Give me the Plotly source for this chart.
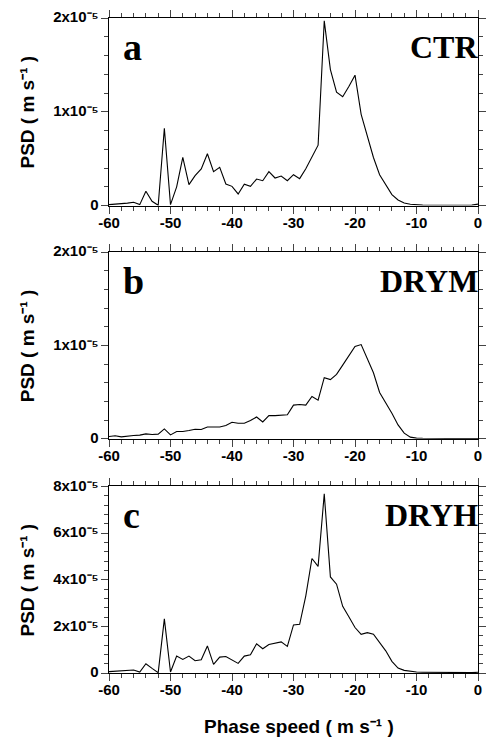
import plotly.graph_objects as go

# ---------------- data ----------------
phase_speed = list(range(-60, 1))  # m s^-1

psd_ctr_e6 = [0.10, 0.14, 0.18, 0.26, 0.35, 0.10, 1.52, 0.46, 0.03, 8.25,
              0.10, 2.00, 5.13, 2.23, 3.19, 3.90, 5.52, 3.61, 4.07, 2.30,
              2.05, 1.24, 2.27, 2.05, 2.83, 2.65, 3.61, 2.94, 3.15, 2.65,
              3.29, 2.87, 3.93, 5.13, 6.44, 19.70, 14.50, 12.10, 11.60, 12.70,
              13.90, 9.73, 7.43, 5.13, 3.29, 2.30, 1.17, 0.60, 0.28, 0.14,
              0.07, 0.05, 0.04, 0.03, 0.03, 0.02, 0.02, 0.02, 0.03, 0.05,
              0.15]

psd_drym_e6 = [0.25, 0.32, 0.21, 0.32, 0.35, 0.39, 0.53, 0.46, 0.50, 1.06,
               0.42, 0.78, 0.78, 0.88, 1.03, 0.99, 1.27, 1.27, 1.27, 1.42,
               1.77, 1.66, 1.66, 1.95, 2.34, 1.81, 2.48, 2.48, 2.55, 2.58,
               3.61, 3.68, 3.61, 4.53, 4.14, 6.55, 6.35, 6.90, 7.90, 8.90,
               9.90, 10.10, 8.57, 7.08, 4.96, 3.86, 2.73, 1.49, 0.60, 0.18,
               0.07, 0.05, 0.04, 0.03, 0.03, 0.02, 0.02, 0.02, 0.02, 0.02,
               0.02]

psd_dryh_e6 = [0.57, 0.80, 1.00, 1.15, 1.28, 0.43, 3.98, 2.00, 0.14, 23.2,
               0.43, 7.24, 5.82, 7.24, 5.25, 5.68, 11.6, 3.69, 6.82, 7.10,
               5.68, 4.12, 7.24, 7.81, 12.5, 10.4, 12.2, 12.8, 13.35, 11.4,
               20.6, 20.9, 33.1, 49.1, 45.7, 76.8, 41.2, 38.1, 28.6, 24.1,
               19.5, 16.6, 17.3, 16.6, 13.0, 9.5, 5.0, 2.1, 1.13, 0.70,
               0.42, 0.35, 0.30, 0.27, 0.24, 0.22, 0.20, 0.18, 0.17, 0.16,
               0.30]

panel_letters = ["a", "b", "c"]
panel_names = ["CTR", "DRYM", "DRYH"]
x_tick_text = {"\u221260": "-60", "\u221250": "-50", "\u221240": "-40",
               "\u221230": "-30", "\u221220": "-20", "\u221210": "-10", "0": "0"}
y_tick_text = {"0": "0",
               "0.00001": "1x10\u207b\u2075", "0.00002": "2x10\u207b\u2075",
               "0.00004": "4x10\u207b\u2075", "0.00006": "6x10\u207b\u2075",
               "0.00008": "8x10\u207b\u2075"}
y_title = "PSD ( m s\u207b\u00b9 )"
x_title = "Phase speed ( m s\u207b\u00b9 )"

series = [
    [v * 1e-6 for v in psd_ctr_e6],
    [v * 1e-6 for v in psd_drym_e6],
    [v * 1e-6 for v in psd_dryh_e6],
]

# ---------------- layout geometry (pixels) ----------------
W, H = 494, 745
L, R = 109, 486
TOP, BOT = 13, 673
panels_px = [(13, 202), (249, 437), (485, 673)]


def px_x(px):
    return (px - L) / (R - L)


def px_y(py):
    return (BOT - py) / (BOT - TOP)


sans = "Liberation Sans, Arial, Helvetica, sans-serif"
serif = "Liberation Serif, Times New Roman, serif"
SPAN = '<span style="font-family:Liberation Sans,Arial,sans-serif;font-size:15px;font-weight:bold;fill:black">'


def styled(mapping):
    return {k: f"{SPAN}{v}</span>" for k, v in mapping.items()}


x_label_alias = styled(x_tick_text)
y_label_alias = styled(y_tick_text)

fig = go.Figure()

yranges = [[0, 2e-5], [0, 2e-5], [0, 8e-5]]
ydticks = [(1e-5, 2e-6), (1e-5, 2e-6), (2e-5, 4e-6)]

annotations = []
for i in range(3):
    xa = "x" if i == 0 else f"x{i+1}"
    ya = "y" if i == 0 else f"y{i+1}"
    fig.add_trace(go.Scatter(x=phase_speed, y=series[i], mode="lines",
                             line=dict(color="black", width=1.1),
                             xaxis=xa, yaxis=ya, showlegend=False))
    top, bot = panels_px[i]
    dom = [px_y(bot), px_y(top)]
    xkey = "xaxis" if i == 0 else f"xaxis{i+1}"
    ykey = "yaxis" if i == 0 else f"yaxis{i+1}"
    mdt, ndt = ydticks[i]
    common = dict(ticks="outside", showline=True, linecolor="black",
                  mirror="ticks", showgrid=False, zeroline=False)
    xax = dict(domain=[0, 1], anchor=ya, range=[-60, 0], dtick=10,
               labelalias=x_label_alias, ticklen=7,
               minor=dict(ticks="outside", ticklen=4, dtick=2), **common)
    yax = dict(domain=dom, anchor=xa, range=yranges[i], dtick=mdt, tickformat="~g",
               labelalias=y_label_alias, ticklen=7,
               minor=dict(ticks="outside", ticklen=4, dtick=ndt), **common)
    fig.update_layout(**{xkey: xax, ykey: yax})
    annotations.append(dict(text=f"<b>{panel_letters[i]}</b>", xref="paper", yref="paper",
                            x=px_x(121), y=px_y(top + 29), xanchor="left", yanchor="middle",
                            showarrow=False,
                            font=dict(family=serif, size=38, color="black")))
    annotations.append(dict(text=f"<b>{panel_names[i]}</b>", xref="paper", yref="paper",
                            x=px_x(488), y=px_y(top + 29), xanchor="right", yanchor="middle",
                            showarrow=False,
                            font=dict(family=serif, size=32, color="black")))
    annotations.append(dict(text=f"<b>{y_title}</b>", xref="paper", yref="paper",
                            x=px_x(26), y=px_y((top + bot) / 2), xanchor="center",
                            yanchor="middle", textangle=-90, showarrow=False,
                            font=dict(family=sans, size=19, color="black")))

annotations.append(dict(text=f"<b>{x_title}</b>", xref="paper", yref="paper",
                        x=px_x(303), y=px_y(727), xanchor="center", yanchor="middle",
                        showarrow=False, font=dict(family=sans, size=19, color="black")))

fig.update_layout(width=W, height=H,
                  margin=dict(l=L, r=W - R, t=TOP, b=H - BOT),
                  paper_bgcolor="white", plot_bgcolor="white",
                  annotations=annotations, showlegend=False)

fig.write_html("out.html", config={"displayModeBar": False},
               post_script="document.body.style.margin='0';document.body.style.overflow='hidden';")
